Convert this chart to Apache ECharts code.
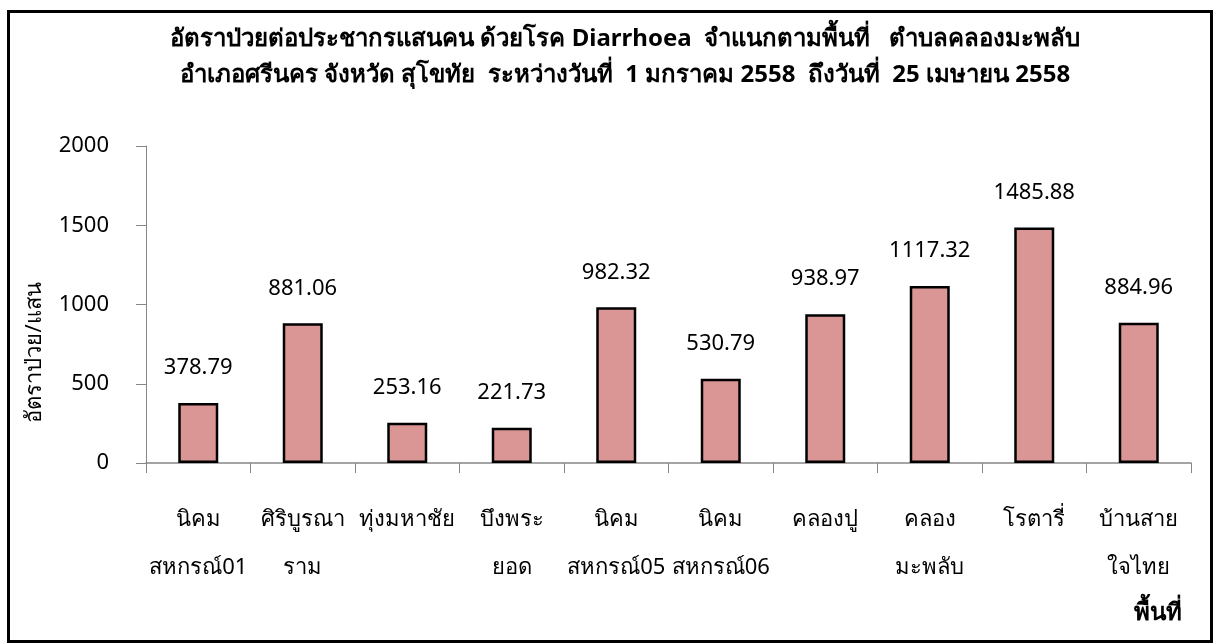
<!DOCTYPE html>
<html>
<head>
<meta charset="utf-8">
<script src="https://cdn.jsdelivr.net/npm/echarts@6/dist/echarts.min.js"></script>
<style>
  html, body { margin: 0; padding: 0; background: #fff; }
  #frame { position: absolute; left: 7px; top: 10px; width: 1200px; height: 627px; border: 3px solid #000; }
  #main { position: absolute; left: 0; top: 0; width: 1215px; height: 644px; }
</style>
</head>
<body>
<div id="frame"></div>
<div id="main"></div>
<script>
var categories = ['นิคม\nสหกรณ์01', 'ศิริบูรณา\nราม', 'ทุ่งมหาชัย', 'บึงพระ\nยอด', 'นิคม\nสหกรณ์05',
  'นิคม\nสหกรณ์06', 'คลองปู', 'คลอง\nมะพลับ', 'โรตารี่', 'บ้านสาย\nใจไทย'];
var rates = [378.79, 881.06, 253.16, 221.73, 982.32, 530.79, 938.97, 1117.32, 1485.88, 884.96];
var titleLines = [
  'อัตราป่วยต่อประชากรแสนคน ด้วยโรค Diarrhoea  จำแนกตามพื้นที่   ตำบลคลองมะพลับ',
  'อำเภอศรีนคร จังหวัด สุโขทัย  ระหว่างวันที่  1 มกราคม 2558  ถึงวันที่  25 เมษายน 2558'
];

var myChart = echarts.init(document.getElementById('main'));
var font = '"Noto Sans", sans-serif';

var option = {
  animation: false,
  textStyle: { fontFamily: font },
  title: {
    text: titleLines.join('\n'),
    left: 620,
    textAlign: 'center',
    top: 16,
    textStyle: { fontSize: 24, fontWeight: 'bold', color: '#000', lineHeight: 36, fontFamily: font }
  },
  grid: { left: 146, right: 24, top: 146, bottom: 181, containLabel: false },
  xAxis: {
    type: 'category',
    data: categories,
    name: 'พื้นที่',
    nameLocation: 'end',
    nameGap: -9,
    nameTextStyle: { fontSize: 24, fontWeight: 'bold', color: '#000', padding: [138, 0, 0, 0], align: 'right', verticalAlign: 'top' },
    axisLine: { lineStyle: { color: '#868686', width: 1.5 } },
    axisTick: { show: true, length: 10, lineStyle: { color: '#868686' } },
    axisLabel: { interval: 0, margin: 33, fontSize: 22, color: '#000', lineHeight: 48 }
  },
  yAxis: {
    type: 'value',
    min: 0,
    max: 2000,
    interval: 500,
    name: 'อัตราป่วย/แสน',
    nameLocation: 'middle',
    nameGap: 100,
    nameTextStyle: { fontSize: 22, color: '#000', padding: [0, 96, 0, 0] },
    axisLine: { show: true, lineStyle: { color: '#868686', width: 1 } },
    axisTick: { show: true, length: 10, lineStyle: { color: '#868686' } },
    splitLine: { show: false },
    axisLabel: { margin: 37, fontSize: 22, color: '#000', formatter: function (v) { return String(v); } }
  },
  series: [{
    type: 'bar',
    data: rates,
    barWidth: 40,
    itemStyle: { color: '#d99694', borderColor: '#000', borderWidth: 2.5 },
    label: { show: true, position: 'top', distance: 24, fontSize: 22, color: '#000', formatter: function (p) { return p.value.toFixed(2); } }
  }]
};

myChart.setOption(option);
</script>
</body>
</html>
